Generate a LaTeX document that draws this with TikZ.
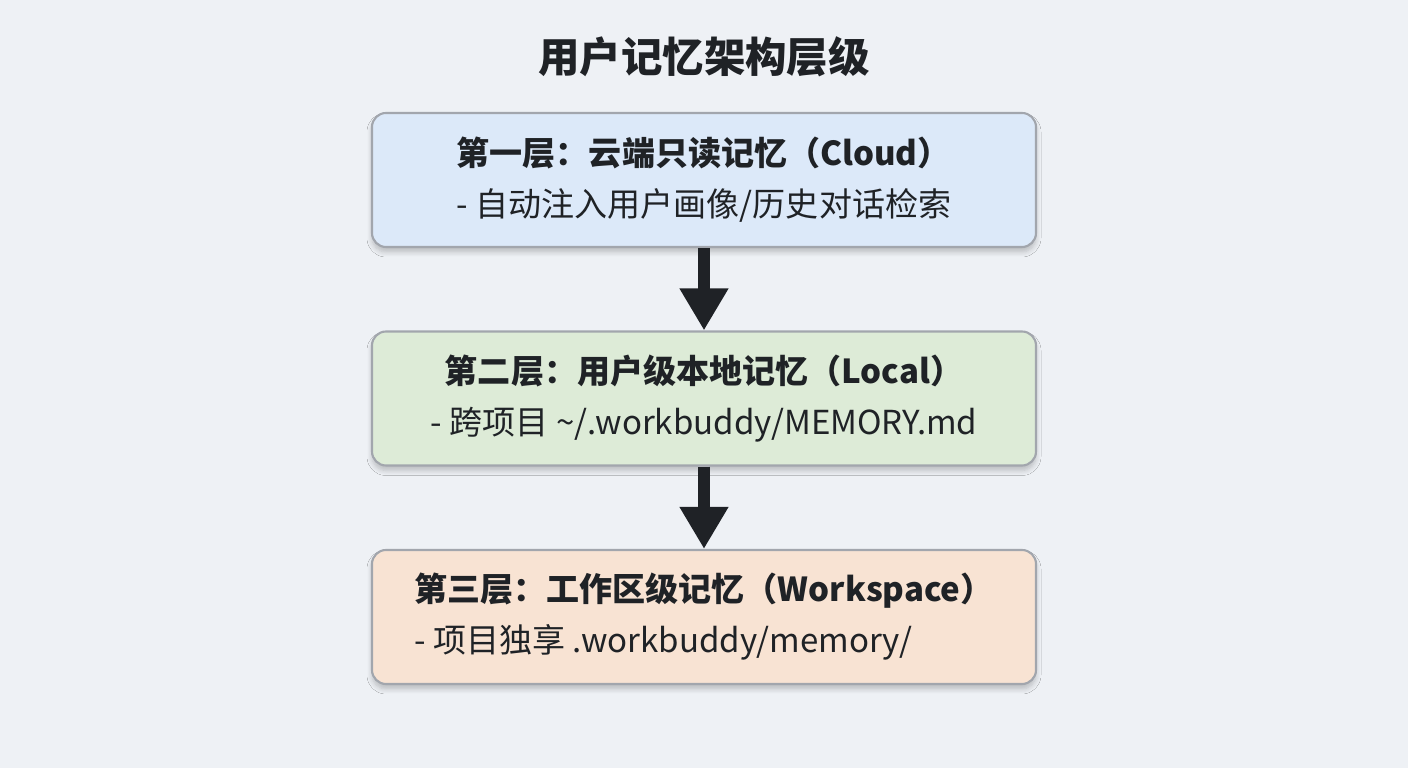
\documentclass[tikz,border=0pt]{standalone}
\usepackage{fontspec}
\setmainfont{Noto Sans CJK SC}
\usetikzlibrary{arrows.meta,shadows.blur}

\definecolor{bgcol}{HTML}{EEF1F5}
\definecolor{edgecol}{HTML}{A2A6AD}
\definecolor{inkcol}{HTML}{1F2226}
\definecolor{cloudcol}{HTML}{DCE9F9}
\definecolor{localcol}{HTML}{DDEBD7}
\definecolor{wscol}{HTML}{F8E3D3}

\tikzset{
  layerbox/.style={draw=edgecol, line width=0.6pt, rounded corners=0.14cm,
    minimum width=6.64cm, minimum height=1.34cm, align=left, text=inkcol,
    font=\fontsize{9.4}{14.5}\selectfont,
    blur shadow={shadow xshift=0pt, shadow yshift=-0.05cm, shadow opacity=22,
      shadow blur radius=0.05cm, shadow blur steps=6}},
  flowarrow/.style={inkcol, line width=0.12cm,
    -{Triangle[length=0.42cm,width=0.46cm]}}
}

\begin{document}
\begin{tikzpicture}

% Background
\fill[bgcol] (0,0) rectangle (14.08,7.68);
\useasboundingbox (0,0) rectangle (14.08,7.68);

% Title
\node[text=inkcol, font=\fontsize{11.8}{14}\selectfont\bfseries] (title) at (7.04,7.11) {用户记忆架构层级};

% The three memory layers
\node[layerbox, fill=cloudcol] (cloud) at (7.04,5.88)
  {{\bfseries 第一层：云端只读记忆（Cloud）}\\- 自动注入用户画像/历史对话检索};
\node[layerbox, fill=localcol, align=center] (local) at (7.04,3.695)
  {{\bfseries 第二层：用户级本地记忆（Local）}\\- 跨项目 \textasciitilde/.workbuddy/MEMORY.md};
\node[layerbox, fill=wscol] (workspace) at (7.04,1.51)
  {{\bfseries 第三层：工作区级记忆（Workspace）}\\- 项目独享 .workbuddy/memory/};

% Arrows between layers
\draw[flowarrow] (cloud) -- (local);
\draw[flowarrow] (local) -- (workspace);

\end{tikzpicture}
\end{document}
